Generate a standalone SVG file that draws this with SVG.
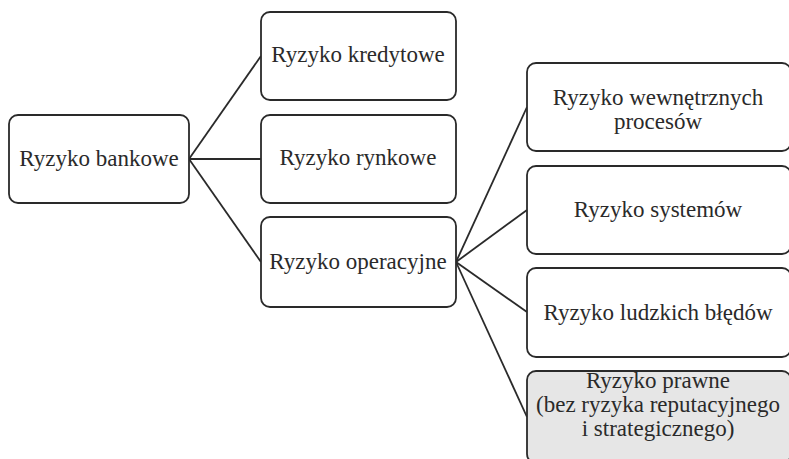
<svg xmlns="http://www.w3.org/2000/svg" width="789" height="459" viewBox="0 0 789 459">
<style>
.box{fill:#fff;stroke:#2a2a2a;stroke-width:1.8}
.gray{fill:#e6e6e6}
text{font-family:"Liberation Serif","DejaVu Serif",serif;font-size:23px;fill:#2a2a2a;text-anchor:middle}
.conn line{stroke:#2a2a2a;stroke-width:1.8}
</style>
<rect width="789" height="459" fill="#fff"/>
<g class="conn">
<line x1="189" y1="159" x2="261" y2="56"/>
<line x1="189" y1="159" x2="261" y2="159"/>
<line x1="189" y1="159" x2="261" y2="262"/>
<line x1="456" y1="262" x2="527" y2="107"/>
<line x1="456" y1="262" x2="527" y2="210"/>
<line x1="456" y1="262" x2="527" y2="312"/>
<line x1="456" y1="262" x2="527" y2="417"/>
</g>
<g id="bankowe"><rect class="box" x="9" y="115" width="180" height="88" rx="9"/><text x="99" y="166">Ryzyko bankowe</text></g>
<g id="kredytowe"><rect class="box" x="261" y="12" width="195" height="88" rx="9"/><text x="358" y="62">Ryzyko kredytowe</text></g>
<g id="rynkowe"><rect class="box" x="261" y="115" width="195" height="88" rx="9"/><text x="358" y="165">Ryzyko rynkowe</text></g>
<g id="operacyjne"><rect class="box" x="261" y="217" width="195" height="90" rx="9"/><text x="358" y="269">Ryzyko operacyjne</text></g>
<g id="procesy"><rect class="box" x="527" y="63" width="264" height="88" rx="9"/><text x="658" y="105">Ryzyko wewnętrznych</text><text x="658" y="129">procesów</text></g>
<g id="systemy"><rect class="box" x="527" y="166" width="264" height="88" rx="9"/><text x="658" y="217">Ryzyko systemów</text></g>
<g id="bledy"><rect class="box" x="527" y="268" width="264" height="89" rx="9"/><text x="658" y="320">Ryzyko ludzkich błędów</text></g>
<g id="prawne"><rect class="box gray" x="527" y="371" width="264" height="92" rx="9"/><text x="658" y="388">Ryzyko prawne</text><text x="658" y="412">(bez ryzyka reputacyjnego</text><text x="658" y="436">i strategicznego)</text></g>
</svg>
